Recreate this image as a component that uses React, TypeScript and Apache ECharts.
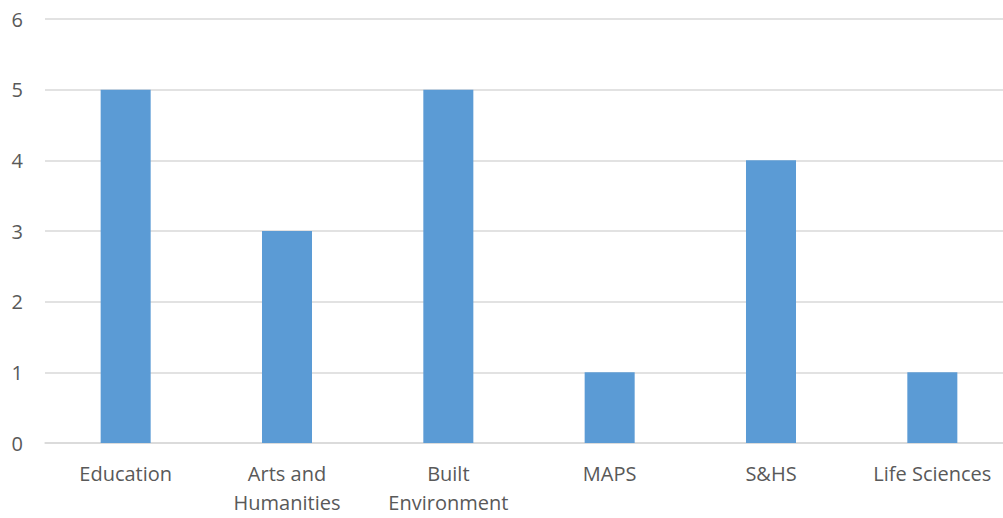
import React, { useEffect, useRef } from "react";
import * as echarts from "echarts";

const categories = ["Education", "Arts and\nHumanities", "Built\nEnvironment", "MAPS", "S&HS", "Life Sciences"];
const values = [5, 3, 5, 1, 4, 1];

export default function App() {
  const ref = useRef<HTMLDivElement>(null);
  useEffect(() => {
    if (!ref.current) return;
    const chart = echarts.init(ref.current, undefined, { renderer: "svg" });
    chart.setOption({
      animation: false,
      grid: { left: 45, right: 0, top: 19, bottom: 75, containLabel: false },
      xAxis: {
        type: "category",
        data: categories,
        axisLine: { show: true, lineStyle: { color: "#D9D9D9", width: 1.5 } },
        axisTick: { show: false },
        axisLabel: {
          color: "#595959",
          fontSize: 20,
          fontFamily: "Open Sans",
          margin: 16,
          lineHeight: 29,
          interval: 0,
        },
      },
      yAxis: {
        type: "value",
        min: 0,
        max: 6,
        interval: 1,
        axisLine: { show: false },
        axisTick: { show: false },
        splitLine: { lineStyle: { color: "#D9D9D9", width: 1.5 } },
        axisLabel: { color: "#595959", fontSize: 20, fontFamily: "Open Sans", margin: 22 },
      },
      series: [
        {
          type: "bar",
          data: values,
          barWidth: "31%",
          itemStyle: { color: "#5B9BD5" },
        },
      ],
    });
    return () => chart.dispose();
  }, []);
  return (
    <div style={{ position: "absolute", left: 0, top: 0, width: 1003, height: 518, overflow: "hidden" }}>
      <div ref={ref} style={{ width: 1013, height: 518 }} />
    </div>
  );
}
